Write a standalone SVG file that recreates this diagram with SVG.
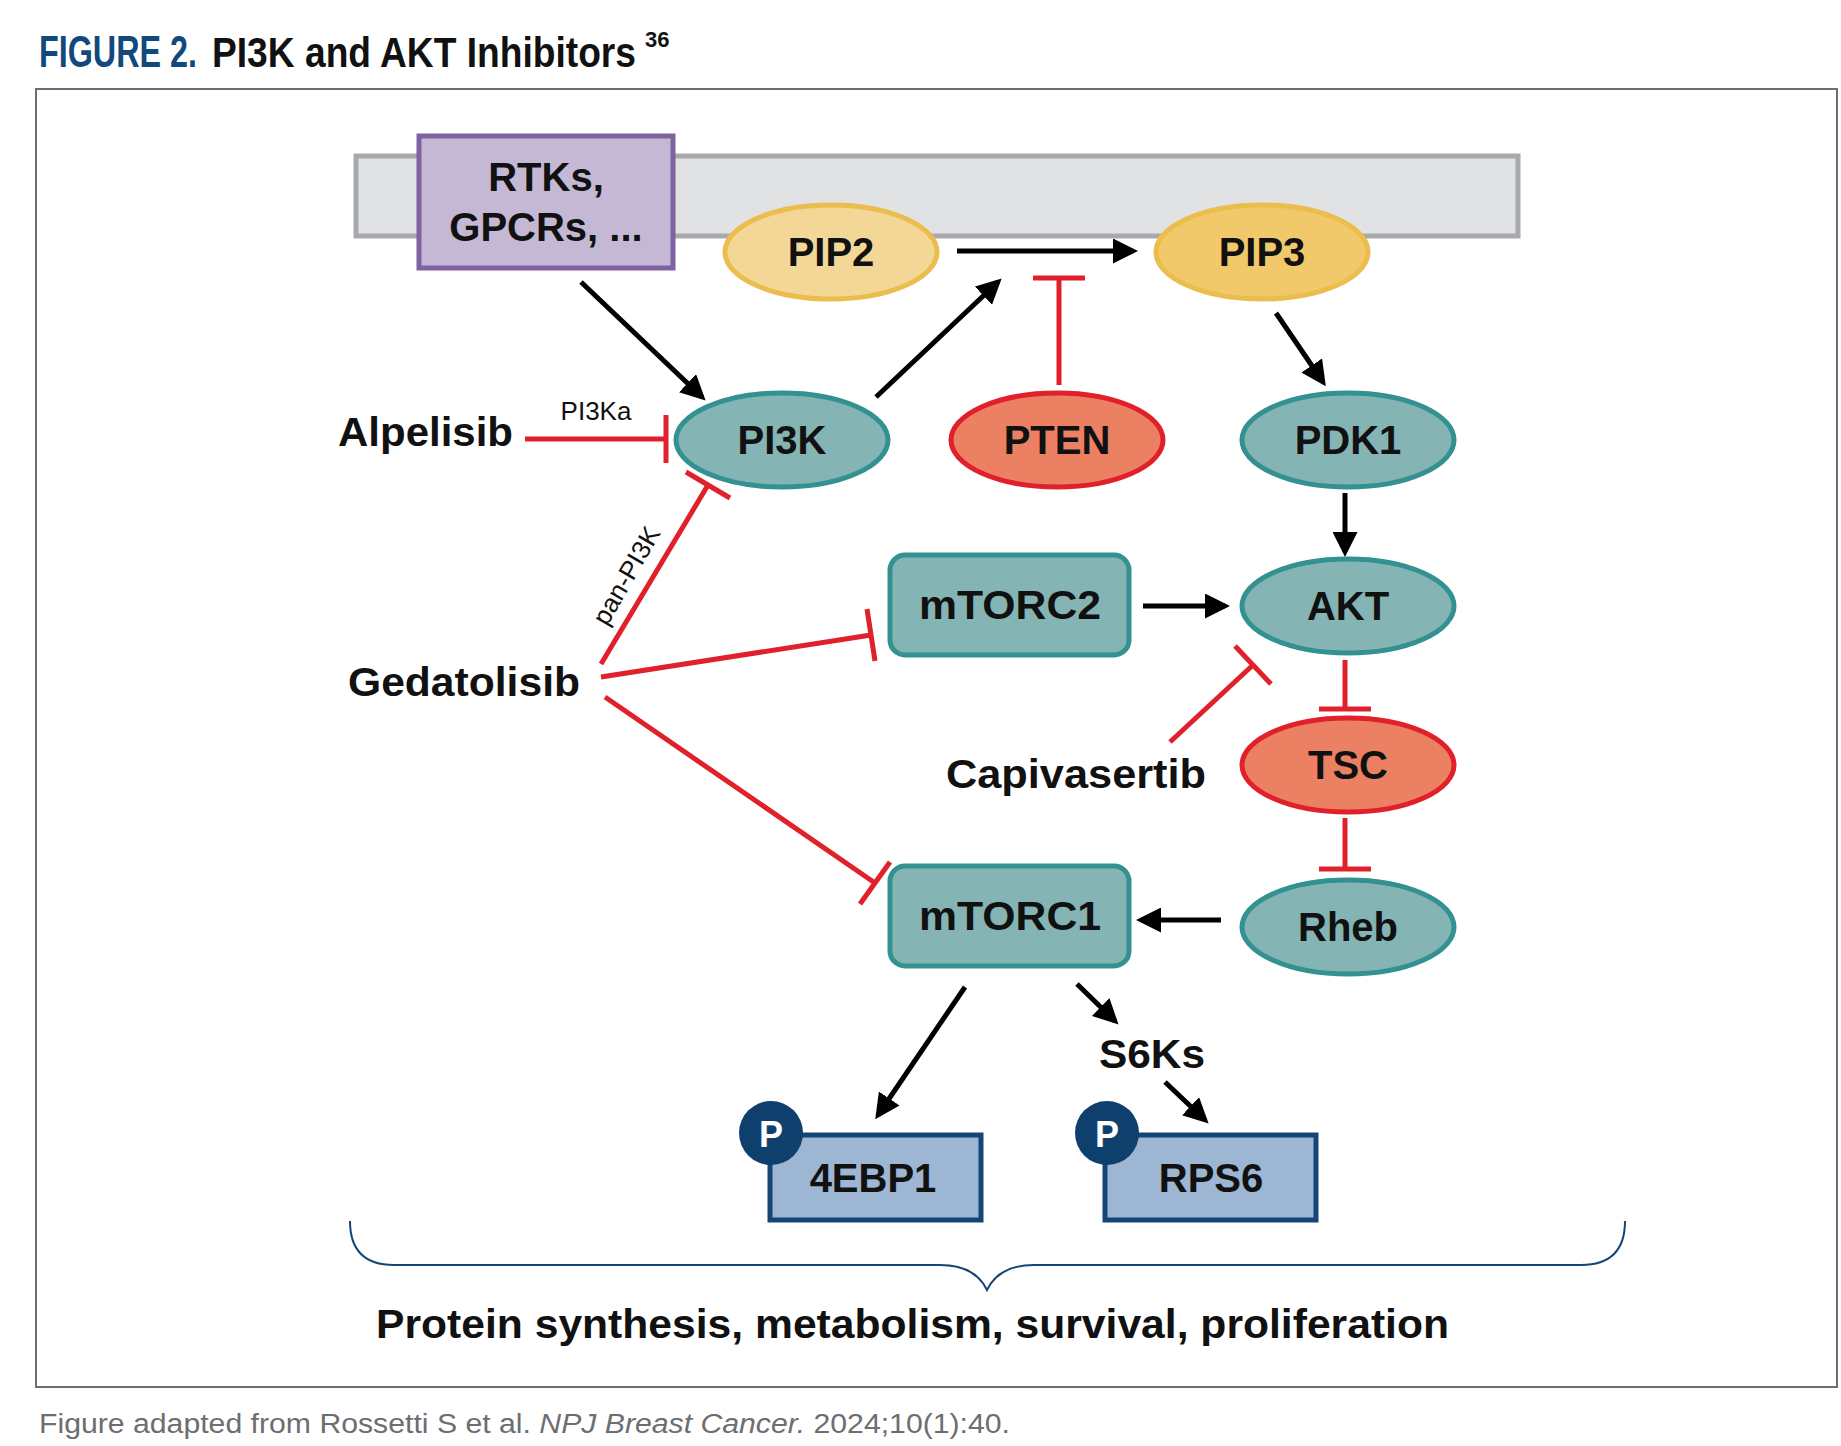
<svg xmlns="http://www.w3.org/2000/svg" width="1841" height="1446" viewBox="0 0 1841 1446">
<defs>
<marker id="ah" viewBox="0 0 10 10" refX="8" refY="5" markerWidth="5" markerHeight="5" orient="auto" markerUnits="strokeWidth"><path d="M0,0 L10,5 L0,10 z" fill="#000"/></marker>
<style>
text{font-family:"Liberation Sans",Arial,sans-serif;}
.n{font-size:40px;font-weight:bold;text-anchor:middle;fill:#111;}
.lbl{font-size:40px;font-weight:bold;fill:#111;}
.teal{fill:#84b4b4;stroke:#339191;stroke-width:5;}
.red{fill:#eb8063;stroke:#e0202a;stroke-width:5;}
.blk{stroke:#000;stroke-width:5;fill:none;marker-end:url(#ah);}
.inh{stroke:#e0202a;stroke-width:5;fill:none;}
.bar{stroke:#e0202a;stroke-width:5;}
.pb{fill:#9db6d3;stroke:#144575;stroke-width:5;}
.pc{fill:#0e3f6d;}
</style>
</defs>
<rect width="1841" height="1446" fill="#fff"/>
<text x="39" y="67" font-size="44" font-weight="bold" fill="#11497c" textLength="158" lengthAdjust="spacingAndGlyphs">FIGURE 2.</text>
<text x="212" y="67" font-size="42" font-weight="bold" fill="#111" textLength="424" lengthAdjust="spacingAndGlyphs">PI3K and AKT Inhibitors</text>
<text x="645" y="47" font-size="22" font-weight="bold" fill="#111">36</text>
<rect x="36" y="89" width="1801" height="1298" fill="none" stroke="#6d6e71" stroke-width="2"/>
<rect x="356" y="156" width="1162" height="80" fill="#e1e2e4" stroke="#a7a9ac" stroke-width="5"/>
<g id="rtks"><rect x="419" y="136" width="254" height="132" fill="#c5b8d4" stroke="#8062a0" stroke-width="5"/><text class="n" x="546" y="191">RTKs,</text><text class="n" x="546" y="241">GPCRs, ...</text></g>
<g id="pip2"><ellipse cx="831" cy="252" rx="106" ry="47" fill="#f3d797" stroke="#ebbd4c" stroke-width="5"/><text class="n" x="831" y="266">PIP2</text></g>
<g id="pip3"><ellipse cx="1262" cy="252" rx="106" ry="47" fill="#f1c96a" stroke="#ebbd4c" stroke-width="5"/><text class="n" x="1262" y="266">PIP3</text></g>
<g id="pi3k"><ellipse class="teal" cx="782" cy="440" rx="106" ry="47"/><text class="n" x="782" y="454">PI3K</text></g>
<g id="pten"><ellipse class="red" cx="1057" cy="440" rx="106" ry="47"/><text class="n" x="1057" y="454">PTEN</text></g>
<g id="pdk1"><ellipse class="teal" cx="1348" cy="440" rx="106" ry="47"/><text class="n" x="1348" y="454">PDK1</text></g>
<g id="akt"><ellipse class="teal" cx="1348" cy="606" rx="106" ry="47"/><text class="n" x="1348" y="620">AKT</text></g>
<g id="tsc"><ellipse class="red" cx="1348" cy="765" rx="106" ry="47"/><text class="n" x="1348" y="779">TSC</text></g>
<g id="rheb"><ellipse class="teal" cx="1348" cy="927" rx="106" ry="47"/><text class="n" x="1348" y="941">Rheb</text></g>
<g id="mtorc2"><rect class="teal" x="890" y="555" width="239" height="100" rx="15"/><text class="n" x="1010" y="619" textLength="182" lengthAdjust="spacingAndGlyphs">mTORC2</text></g>
<g id="mtorc1"><rect class="teal" x="890" y="866" width="239" height="100" rx="15"/><text class="n" x="1010" y="930" textLength="182" lengthAdjust="spacingAndGlyphs">mTORC1</text></g>
<g id="eb"><rect class="pb" x="770" y="1135" width="211" height="85"/><text class="n" x="873" y="1192">4EBP1</text><circle class="pc" cx="771" cy="1133" r="32"/><text x="771" y="1147" font-size="36" font-weight="bold" fill="#fff" text-anchor="middle">P</text></g>
<g id="rps6"><rect class="pb" x="1105" y="1135" width="211" height="85"/><text class="n" x="1211" y="1192">RPS6</text><circle class="pc" cx="1107" cy="1133" r="32"/><text x="1107" y="1147" font-size="36" font-weight="bold" fill="#fff" text-anchor="middle">P</text></g>
<g id="s6ks"><text class="n" x="1152" y="1068" textLength="106" lengthAdjust="spacingAndGlyphs">S6Ks</text></g>
<g id="alpelisib"><text class="lbl" x="338" y="446" textLength="175" lengthAdjust="spacingAndGlyphs">Alpelisib</text></g>
<g id="gedatolisib"><text class="lbl" x="348" y="696" textLength="232" lengthAdjust="spacingAndGlyphs">Gedatolisib</text></g>
<g id="capivasertib"><text class="lbl" x="946" y="788" textLength="260" lengthAdjust="spacingAndGlyphs">Capivasertib</text></g>
<g id="connectors">
<line class="blk" x1="581" y1="282" x2="702" y2="397"/>
<line class="blk" x1="876" y1="397" x2="998" y2="282"/>
<line class="blk" x1="957" y1="251" x2="1133" y2="251"/>
<line class="blk" x1="1276" y1="313" x2="1323" y2="382"/>
<line class="blk" x1="1345" y1="493" x2="1345" y2="552"/>
<line class="blk" x1="1143" y1="606" x2="1225" y2="606"/>
<line class="blk" x1="1221" y1="920" x2="1141" y2="920"/>
<line class="blk" x1="965" y1="987" x2="878" y2="1115"/>
<line class="blk" x1="1077" y1="984" x2="1115" y2="1021"/>
<line class="blk" x1="1165" y1="1082" x2="1205" y2="1120"/>
<line class="inh" x1="1059" y1="385" x2="1059" y2="278"/><line class="bar" x1="1033" y1="278" x2="1085" y2="278"/>
<line class="inh" x1="1345" y1="660" x2="1345" y2="709"/><line class="bar" x1="1319" y1="709" x2="1371" y2="709"/>
<line class="inh" x1="1345" y1="818" x2="1345" y2="869"/><line class="bar" x1="1319" y1="869" x2="1371" y2="869"/>
<line class="inh" x1="525" y1="439" x2="666" y2="439"/><line class="bar" x1="666" y1="415" x2="666" y2="463"/>
<line class="inh" x1="1170" y1="742" x2="1253" y2="665"/><line class="bar" x1="1235" y1="646" x2="1271" y2="684"/>
<line class="inh" x1="601" y1="664" x2="708" y2="485"/><line class="bar" x1="686" y1="472" x2="730" y2="498"/>
<line class="inh" x1="601" y1="677" x2="871" y2="635"/><line class="bar" x1="867" y1="609" x2="875" y2="661"/>
<line class="inh" x1="605" y1="697" x2="875" y2="883"/><line class="bar" x1="860" y1="904" x2="890" y2="862"/>
<text x="596" y="420" font-size="26" text-anchor="middle" fill="#111">PI3Ka</text>
<text x="0" y="0" font-size="26" text-anchor="middle" fill="#111" transform="translate(634,580) rotate(-60)">pan-PI3K</text>
</g>
<path d="M350,1221 Q350,1265 394,1265 L940,1265 Q975,1265 987,1290 Q999,1265 1034,1265 L1581,1265 Q1625,1265 1625,1221" fill="none" stroke="#144575" stroke-width="2"/>
<text x="376" y="1338" font-size="40" font-weight="bold" fill="#111" textLength="1073" lengthAdjust="spacingAndGlyphs">Protein synthesis, metabolism, survival, proliferation</text>
<text x="39" y="1433" font-size="27" fill="#6d6e71" textLength="971" lengthAdjust="spacingAndGlyphs">Figure adapted from Rossetti S et al. <tspan font-style="italic">NPJ Breast Cancer.</tspan> 2024;10(1):40.</text>
</svg>
